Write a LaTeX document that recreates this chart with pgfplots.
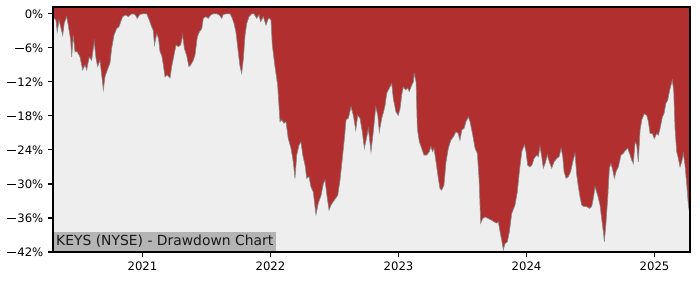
\documentclass[border=0pt]{standalone}
\usepackage{fontspec}
\setmainfont{DejaVu Sans}
\usepackage{pgfplots}
\usepackage{pgfplotstable}
\pgfplotsset{compat=1.18}
\newcommand\mn{\kern0.6pt\rule[2.45pt]{6.4pt}{0.72pt}\kern0.7pt}
\definecolor{ddred}{RGB}{177,47,47}
\definecolor{bgg}{RGB}{238,238,238}
\definecolor{lbl}{RGB}{180,180,180}
\definecolor{edge}{RGB}{135,135,135}
\pgfplotstableread{
x y
2020.301 -0.6
2020.324 -1.1
2020.334 -3.2
2020.348 -1.1
2020.363 -2.5
2020.377 -3.8
2020.389 -1.6
2020.408 -0.5
2020.420 -2.0
2020.439 -4.6
2020.447 -7.6
2020.459 -3.8
2020.473 -6.7
2020.491 -6.7
2020.512 -7.6
2020.533 -9.9
2020.551 -9.0
2020.564 -9.9
2020.584 -7.6
2020.603 -8.2
2020.623 -4.9
2020.637 -7.9
2020.650 -9.3
2020.668 -8.2
2020.686 -11.7
2020.694 -13.4
2020.707 -11.1
2020.725 -9.9
2020.746 -8.7
2020.759 -6.1
2020.777 -3.8
2020.798 -2.6
2020.816 -2.3
2020.830 -1.4
2020.845 -0.5
2020.871 -0.2
2020.889 -0.5
2020.916 0
2020.941 -0.1
2020.959 -0.8
2020.980 -0.1
2021.006 0
2021.033 0
2021.053 -1.1
2021.072 -2.3
2021.084 -2.9
2021.094 -5.5
2021.111 -3.5
2021.125 -4.3
2021.137 -6.7
2021.150 -7.3
2021.163 -9.0
2021.176 -11.1
2021.194 -10.8
2021.215 -11.3
2021.228 -9.3
2021.246 -7.3
2021.262 -5.5
2021.280 -5.8
2021.298 -5.5
2021.314 -3.8
2021.327 -6.1
2021.345 -7.3
2021.363 -9.3
2021.377 -9.0
2021.397 -8.2
2021.410 -7.3
2021.428 -4.1
2021.444 -3.2
2021.463 -2.6
2021.475 -0.8
2021.494 -0.5
2021.514 -0.8
2021.533 -0.2
2021.553 0
2021.580 0
2021.600 -0.2
2021.619 -0.8
2021.631 -0.1
2021.658 0
2021.684 0
2021.702 -0.8
2021.715 -1.7
2021.730 -3.2
2021.748 -6.7
2021.762 -9.3
2021.775 -10.5
2021.788 -7.9
2021.801 -3.8
2021.814 -1.7
2021.832 -0.5
2021.853 0
2021.871 0
2021.892 -0.8
2021.910 -0.2
2021.923 -1.4
2021.944 -0.5
2021.965 -2.0
2021.978 -1.1
2021.988 -0.7
2022.004 -1.1
2022.014 -5.5
2022.035 -9.3
2022.056 -12.6
2022.074 -19.0
2022.088 -18.7
2022.105 -19.3
2022.121 -19.0
2022.139 -22.0
2022.160 -23.7
2022.178 -26.1
2022.191 -29.0
2022.205 -24.9
2022.223 -23.1
2022.238 -22.6
2022.252 -24.9
2022.270 -26.7
2022.283 -29.0
2022.301 -28.7
2022.316 -30.5
2022.334 -31.4
2022.355 -35.4
2022.373 -33.4
2022.395 -32.0
2022.413 -29.9
2022.426 -29.3
2022.439 -31.7
2022.457 -34.6
2022.473 -33.7
2022.491 -33.1
2022.509 -32.5
2022.525 -32.0
2022.543 -29.3
2022.561 -25.5
2022.577 -22.0
2022.590 -18.7
2022.608 -18.4
2022.629 -16.4
2022.647 -17.9
2022.666 -20.5
2022.681 -17.9
2022.699 -18.4
2022.717 -20.8
2022.733 -23.7
2022.752 -21.7
2022.764 -20.2
2022.785 -24.3
2022.803 -20.8
2022.822 -16.4
2022.838 -17.9
2022.850 -20.8
2022.869 -18.4
2022.883 -17.3
2022.895 -16.1
2022.908 -14.0
2022.928 -13.1
2022.947 -12.3
2022.959 -14.9
2022.980 -17.3
2022.998 -17.9
2023.012 -16.7
2023.025 -14.3
2023.037 -12.9
2023.056 -13.4
2023.072 -13.1
2023.084 -13.7
2023.103 -12.6
2023.116 -12.0
2023.123 -10.5
2023.137 -12.0
2023.147 -20.2
2023.163 -22.6
2023.181 -23.7
2023.199 -24.9
2023.220 -24.9
2023.241 -24.3
2023.252 -23.4
2023.267 -24.3
2023.277 -23.7
2023.293 -26.1
2023.311 -29.0
2023.324 -30.8
2023.337 -31.1
2023.355 -30.2
2023.371 -26.1
2023.389 -23.7
2023.408 -22.3
2023.428 -21.7
2023.449 -20.8
2023.467 -21.1
2023.480 -22.3
2023.494 -20.5
2023.512 -20.2
2023.527 -19.0
2023.545 -18.2
2023.559 -19.0
2023.580 -21.4
2023.598 -23.7
2023.616 -24.6
2023.629 -29.0
2023.642 -36.9
2023.658 -36.1
2023.676 -35.8
2023.702 -36.1
2023.728 -36.4
2023.748 -36.7
2023.767 -36.9
2023.780 -36.7
2023.793 -38.4
2023.806 -39.9
2023.819 -41.6
2023.832 -40.5
2023.850 -40.2
2023.866 -38.4
2023.884 -35.2
2023.910 -33.7
2023.928 -31.4
2023.944 -27.8
2023.963 -24.3
2023.983 -23.1
2023.996 -24.3
2024.009 -26.7
2024.027 -27.0
2024.041 -26.7
2024.059 -25.5
2024.080 -24.9
2024.092 -25.2
2024.105 -23.4
2024.119 -25.2
2024.131 -27.2
2024.145 -26.4
2024.163 -24.9
2024.178 -26.1
2024.197 -27.2
2024.215 -26.1
2024.236 -25.5
2024.254 -25.2
2024.270 -23.7
2024.283 -25.2
2024.293 -27.8
2024.309 -29.0
2024.327 -28.7
2024.345 -27.8
2024.361 -26.1
2024.379 -24.6
2024.392 -28.4
2024.405 -30.5
2024.418 -32.3
2024.431 -33.7
2024.449 -34.0
2024.470 -34.0
2024.491 -34.3
2024.509 -34.0
2024.522 -32.5
2024.535 -30.5
2024.556 -32.0
2024.574 -33.7
2024.587 -36.1
2024.600 -38.4
2024.608 -40.2
2024.621 -36.7
2024.634 -32.5
2024.647 -27.2
2024.660 -26.4
2024.673 -27.5
2024.686 -29.0
2024.699 -27.8
2024.717 -27.0
2024.738 -24.9
2024.756 -24.6
2024.775 -24.0
2024.791 -23.7
2024.809 -24.9
2024.822 -25.8
2024.834 -26.4
2024.848 -22.6
2024.861 -23.1
2024.873 -26.1
2024.887 -20.5
2024.900 -18.7
2024.920 -17.6
2024.939 -17.9
2024.952 -19.0
2024.965 -21.1
2024.983 -21.1
2024.998 -22.0
2025.017 -21.1
2025.030 -21.4
2025.043 -20.2
2025.061 -18.2
2025.074 -17.6
2025.088 -15.8
2025.103 -15.2
2025.113 -14.0
2025.122 -13.1
2025.139 -11.7
2025.150 -13.7
2025.160 -20.2
2025.173 -24.3
2025.186 -25.5
2025.199 -27.0
2025.212 -26.1
2025.225 -24.6
2025.238 -26.7
2025.252 -30.2
2025.264 -33.7
2025.277 -35.5
}\dd
\begin{document}
\begin{tikzpicture}
\useasboundingbox (-38.16pt,-20.16pt) rectangle (465.8pt,181.44pt);
\begin{axis}[
  at={(0,0)}, anchor=south west,
  scale only axis, width=458.6pt, height=176.4pt,
  xmin=2020.301, xmax=2025.277, ymin=-42, ymax=1.2,
  axis background/.style={fill=bgg},
  axis on top,
  xtick={2021,2022,2023,2024,2025},
  xticklabels={2021,2022,2023,2024,2025},
  ytick={-42,-36,-30,-24,-18,-12,-6,0},
  yticklabels={\mn42\%,\mn36\%,\mn30\%,\mn24\%,\mn18\%,\mn12\%,\mn6\%,0\%},
  tick align=outside, major tick length=3.5pt,
  tick style={black, line width=0.8pt},
  xtick pos=bottom, ytick pos=left,
  minor tick num=0,
  axis line style={line width=0.8pt},
  ticklabel style={font=\fontsize{8.4}{10}\selectfont, text=black},
]
\addplot[fill=ddred, draw=none] table[x=x,y=y] {\dd} |- (rel axis cs:0,1) -- cycle;
\addplot[color=edge, line width=0.45pt] table[x=x,y=y] {\dd};
\node[anchor=south west, fill=lbl, inner xsep=2.1pt, inner ysep=1.95pt,
      text height=7.6pt, text depth=2.4pt, font=\fontsize{10}{12}\selectfont, text=black!90]
  at (rel axis cs:0,0) {KEYS (NYSE) - Drawdown Chart};
\end{axis}
\end{tikzpicture}
\end{document}
